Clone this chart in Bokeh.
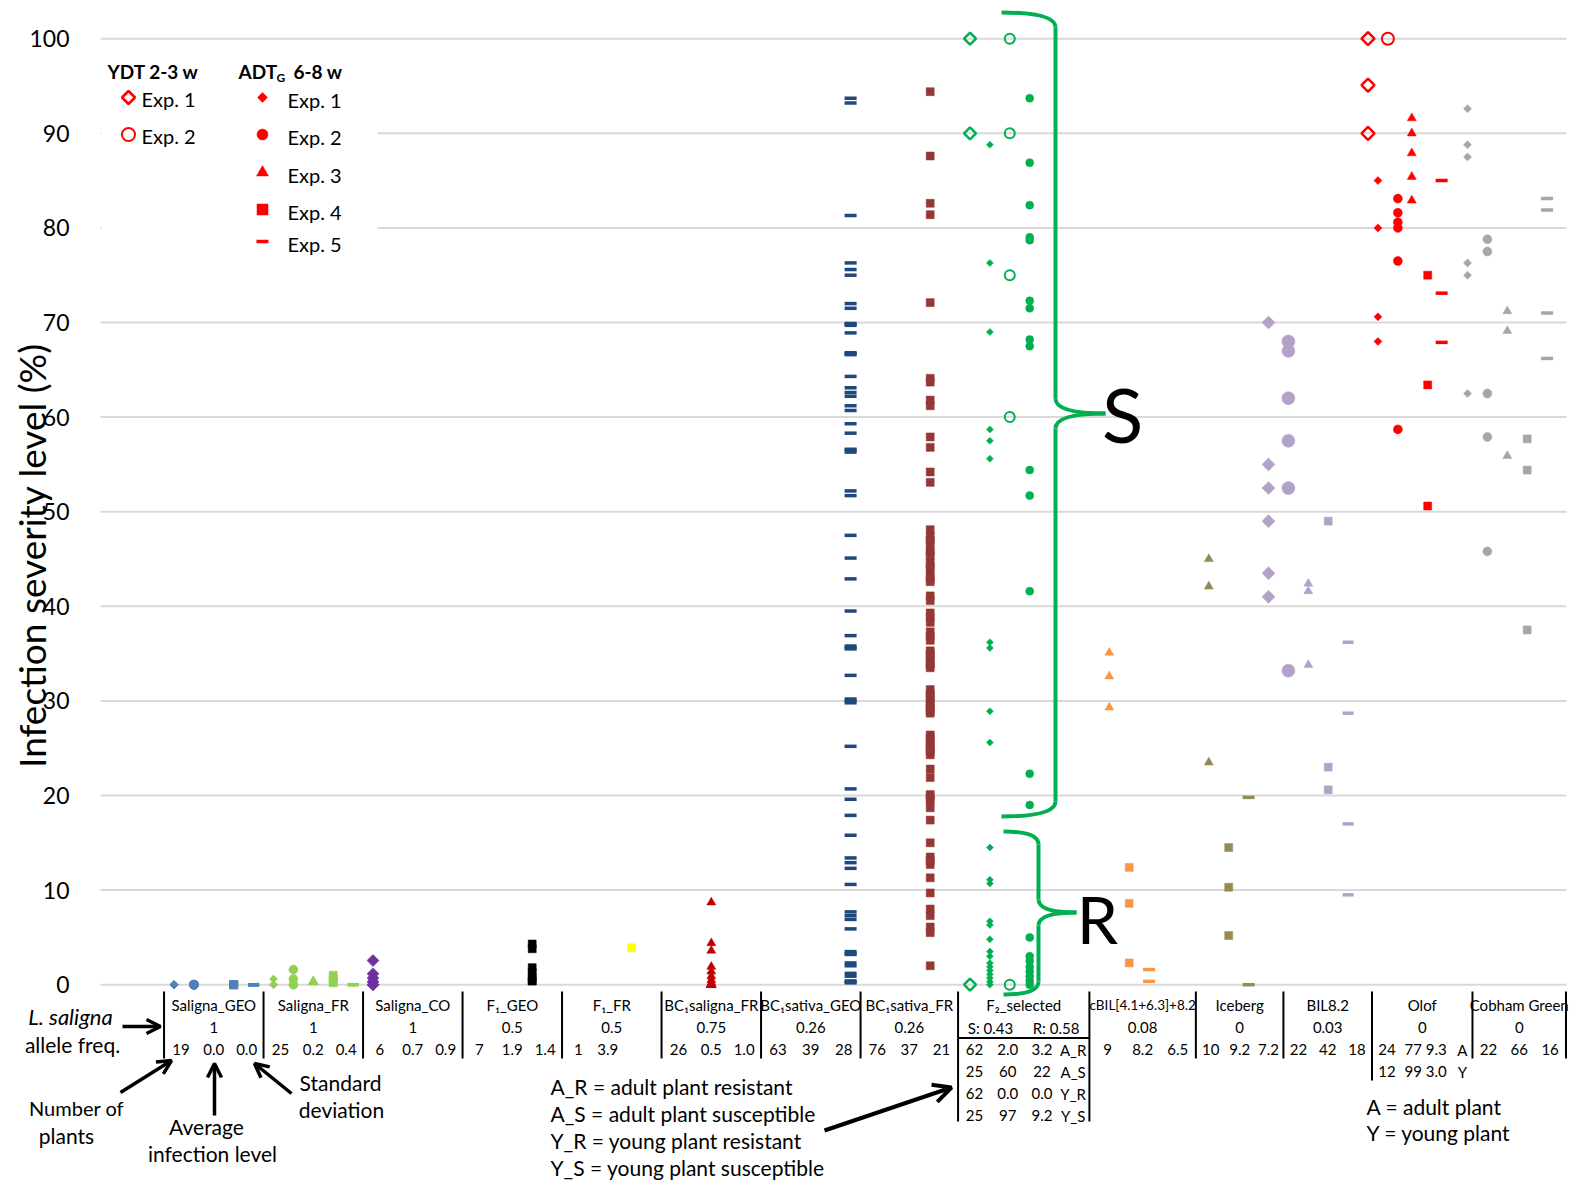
import math
from bokeh.plotting import figure
from bokeh.models import Range1d, FixedTicker, Arrow, OpenHead
from bokeh.embed import file_html
from bokeh.resources import INLINE
from bokeh.core.properties import value

# ---------------- data (infection severity, %) ----------------
y_ticks = [0, 10, 20, 30, 40, 50, 60, 70, 80, 90, 100]

groups = ["Saligna_GEO", "Saligna_FR", "Saligna_CO", "F\u2081_GEO", "F\u2081_FR",
          "BC\u2081saligna_FR", "BC\u2081sativa_GEO", "BC\u2081sativa_FR", "F\u2082_selected",
          "cBIL[4.1+6.3]+8.2", "Iceberg", "BIL8.2", "Olof", "Cobham Green"]
allele_freq = ["1", "1", "1", "0.5", "0.5", "0.75", "0.26", "0.26", None, "0.08", "0", "0.03", "0", "0"]
f2_freq = ["S: 0.43", "R: 0.58"]
stats = [["19", "0.0", "0.0"], ["25", "0.2", "0.4"], ["6", "0.7", "0.9"], ["7", "1.9", "1.4"],
         ["1", "3.9"], ["26", "0.5", "1.0"], ["63", "39", "28"], ["76", "37", "21"], None,
         ["9", "8.2", "6.5"], ["10", "9.2", "7.2"], ["22", "42", "18"], None, ["22", "66", "16"]]
f2_stats = [["62", "2.0", "3.2", "A_R"], ["25", "60", "22", "A_S"],
            ["62", "0.0", "0.0", "Y_R"], ["25", "97", "9.2", "Y_S"]]
olof_stats = [["24", "77", "9.3", "A"], ["12", "99", "3.0", "Y"]]

saligna_geo_e1 = [0.0, 0.0, 0.0, 0.0, 0.0]
saligna_geo_e2 = [0.0, 0.0, 0.0, 0.0, 0.0]
saligna_geo_e4 = [0.0, 0.0, 0.0, 0.0, 0.0]
saligna_geo_e5 = [0.0, 0.0, 0.0, 0.0]
saligna_fr_e1 = [0.6, 0.0, 0.0]
saligna_fr_e2 = [1.6, 0.6, 0.0]
saligna_fr_e3 = [0.3, 0.3]
saligna_fr_e4 = [1.0, 0.7, 0.4, 0.2]
saligna_fr_e5 = [0.0, 0.0]
saligna_co_e1 = [2.55, 1.15, 0.7, 0.3, 0.0, 0.0]
f1_geo_e4 = [4.3, 3.8, 1.8, 1.3, 0.8, 0.4, 0.4]
f1_fr_e4 = [3.9]
bc1saligna_fr_e3 = [8.7, 4.4, 3.6, 1.9, 1.4, 0.9, 0.5, 0.2, 0.0, 0.0, 0.0, 0.0, 0.0,
                    0.0, 0.0, 0.0, 0.0, 0.0, 0.0, 0.0, 0.0, 0.0, 0.0, 0.0, 0.0, 0.0]
bc1sativa_geo_e5 = [93.7, 93.2, 81.3, 76.3, 75.6, 75.0, 72.0, 71.5, 69.9, 69.8, 69.7, 68.9,
                    66.8, 66.7, 66.6, 64.3, 63.1, 62.6, 62.2, 61.2, 60.7, 59.3, 58.3, 56.6,
                    56.5, 56.3, 52.2, 51.7, 47.5, 45.1, 42.9, 39.5, 36.9, 35.8, 35.6, 35.5,
                    32.7, 30.2, 30.0, 29.8, 25.2, 20.7, 19.6, 17.9, 15.8, 13.4, 12.9, 12.3,
                    10.6, 7.7, 7.3, 6.9, 5.9, 3.5, 3.3, 3.2, 2.3, 2.0, 1.2, 0.9, 0.4, 0.3, 0.2]
bc1sativa_fr_e4 = [94.4, 87.6, 82.6, 81.4, 72.1, 64.1, 63.7, 61.8, 61.2, 57.9, 56.8, 54.2, 53.1,
                   48.1, 47.4, 46.7, 46.0, 45.3, 44.6, 43.9, 43.2, 42.6, 41.1, 40.6, 39.3, 38.8,
                   38.3, 37.3, 36.8, 36.4, 35.3, 34.8, 34.3, 33.8, 33.5, 31.2, 30.7, 30.2, 29.7,
                   29.2, 28.7, 26.4, 25.9, 25.4, 24.9, 24.3, 22.8, 21.9, 20.1, 19.5, 18.7, 17.4,
                   15.0, 13.5, 12.7, 11.3, 9.7, 8.0, 7.3, 6.1, 5.5, 2.0, 47.0, 45.7, 44.2, 42.9,
                   35.0, 34.0, 30.5, 29.5, 28.9, 26.1, 25.1, 24.6, 19.8, 13.1]
f2_ydt_e1 = [100.0, 90.0, 0.0]
f2_adt_e1 = [88.8, 76.3, 69.0, 58.7, 57.5, 55.6, 36.2, 35.6, 28.9, 25.6, 14.5, 11.1, 10.7,
             6.7, 6.3, 4.8, 3.5, 3.0, 2.3, 1.9, 1.5, 1.1, 0.7, 0.3, 0.0]
f2_ydt_e2 = [100.0, 90.0, 75.0, 60.0, 0.0]
f2_adt_e2 = [93.7, 86.9, 82.4, 79.0, 78.7, 72.3, 71.5, 68.2, 67.5, 54.4, 51.7, 41.6, 22.3,
             19.0, 5.0, 3.0, 2.5, 1.9, 1.4, 0.9, 0.4, 0.0]
cbil_e3 = [35.1, 32.6, 29.3]
cbil_e4 = [12.4, 8.6, 2.3]
cbil_e5 = [1.6, 0.35]
iceberg_e3 = [45.0, 42.1, 23.5]
iceberg_e4 = [14.5, 10.3, 5.2]
iceberg_e5 = [19.8, 0.0]
bil82_e1 = [70.0, 55.0, 52.5, 49.0, 43.5, 41.0]
bil82_e2 = [68.0, 67.0, 62.0, 57.5, 52.5, 33.2]
bil82_e3 = [42.4, 41.6, 33.8]
bil82_e4 = [49.0, 23.0, 20.6]
bil82_e5 = [36.2, 28.7, 17.0, 9.5]
olof_ydt_e1 = [100.0, 95.1, 90.0]
olof_adt_e1 = [85.0, 80.0, 70.6, 68.0]
olof_ydt_e2 = [100.0]
olof_adt_e2 = [83.1, 81.6, 80.6, 80.0, 76.5, 58.7]
olof_adt_e3 = [91.6, 90.0, 87.9, 85.4, 82.9]
olof_adt_e4 = [75.0, 63.4, 50.6]
olof_adt_e5 = [85.0, 73.1, 67.9]
cobham_e1 = [92.6, 88.8, 87.5, 76.3, 75.0, 62.5]
cobham_e2 = [78.8, 77.5, 62.5, 57.9, 45.8]
cobham_e3 = [71.2, 69.1, 55.9]
cobham_e4 = [57.7, 54.4, 37.5]
cobham_e5 = [83.1, 81.9, 71.0, 66.2]

# ---------------- layout helpers (page pixels -> data units) ----------------
FONT = "Lato"
W, H = 1575, 1183
def X(px):
    return (px - 173.5) / 19.9
def Y(py):
    return (984.2 - py) / 9.46

C = dict(sgeo="#4F81BD", sfr="#92D050", sco="#7030A0", f1geo="#000000", f1fr="#FFFF00",
         bcsal="#C00000", bcsgeo="#1F497D", bcsfr="#953735", f2="#00B050", cbil="#F79646",
         ice="#948A54", bil="#B3A2C7", olof="#FF0000", cob="#A6A6A6")

# (values, x slot, marker kind, colour, size)
series = [
    (saligna_geo_e1, 0, "d", C["sgeo"], 8), (saligna_geo_e2, 1, "c", C["sgeo"], 9),
    (saligna_geo_e4, 3, "s", C["sgeo"], 8), (saligna_geo_e5, 4, "-", C["sgeo"], 11),
    (saligna_fr_e1, 5, "d", C["sfr"], 8), (saligna_fr_e2, 6, "c", C["sfr"], 9),
    (saligna_fr_e3, 7, "t", C["sfr"], 10), (saligna_fr_e4, 8, "s", C["sfr"], 8),
    (saligna_fr_e5, 9, "-", C["sfr"], 11),
    (saligna_co_e1, 10, "d", C["sco"], 12),
    (f1_geo_e4, 18, "s", C["f1geo"], 8),
    (f1_fr_e4, 23, "s", C["f1fr"], 8),
    (bc1saligna_fr_e3, 27, "t", C["bcsal"], 9),
    (bc1sativa_geo_e5, 34, "-", C["bcsgeo"], 12),
    (bc1sativa_fr_e4, 38, "s", C["bcsfr"], 8),
    (f2_ydt_e1, 40, "hd", C["f2"], 12), (f2_adt_e1, 41, "d", C["f2"], 7),
    (f2_ydt_e2, 42, "hc", C["f2"], 10), (f2_adt_e2, 43, "c", C["f2"], 8),
    (cbil_e3, 47, "t", C["cbil"], 9), (cbil_e4, 48, "s", C["cbil"], 8), (cbil_e5, 49, "-", C["cbil"], 12),
    (iceberg_e3, 52, "t", C["ice"], 9), (iceberg_e4, 53, "s", C["ice"], 8), (iceberg_e5, 54, "-", C["ice"], 12),
    (bil82_e1, 55, "d", C["bil"], 13), (bil82_e2, 56, "c", C["bil"], 13), (bil82_e3, 57, "t", C["bil"], 9),
    (bil82_e4, 58, "s", C["bil"], 8), (bil82_e5, 59, "-", C["bil"], 11),
    (olof_ydt_e1, 60, "hd", C["olof"], 13), (olof_adt_e1, 60.5, "d", C["olof"], 8),
    (olof_ydt_e2, 61, "hc", C["olof"], 12), (olof_adt_e2, 61.5, "c", C["olof"], 9),
    (olof_adt_e3, 62.2, "t", C["olof"], 9), (olof_adt_e4, 63, "s", C["olof"], 8),
    (olof_adt_e5, 63.7, "-", C["olof"], 12),
    (cobham_e1, 65, "d", C["cob"], 8), (cobham_e2, 66, "c", C["cob"], 9), (cobham_e3, 67, "t", C["cob"], 9),
    (cobham_e4, 68, "s", C["cob"], 8), (cobham_e5, 69, "-", C["cob"], 12),
]

col_edges = [-0.5, 4.5, 9.5, 14.5, 19.5, 24.5, 29.5, 34.5, 39.4, 46.0, 51.35, 55.75, 60.2, 65.25, 69.95]

# ---------------- figure ----------------
p = figure(width=W, height=H, output_backend="svg", toolbar_location=None,
           x_range=Range1d(X(0), X(W)), y_range=Range1d(Y(H), Y(0)),
           x_axis_location=None, y_axis_location="left",
           min_border_left=0, min_border_right=0, min_border_top=0, min_border_bottom=0)
p.outline_line_color = None
p.background_fill_color = "white"
p.border_fill_color = "white"
p.xgrid.visible = False
p.ygrid.visible = False

ax = p.yaxis[0]
ax.fixed_location = X(100)
ax.ticker = FixedTicker(ticks=y_ticks)
ax.axis_line_color = None
ax.major_tick_line_color = None
ax.minor_tick_line_color = None
ax.major_tick_out = 0
ax.major_tick_in = 0
ax.minor_tick_out = 0
ax.major_label_text_font = FONT
ax.major_label_text_font_size = "23px"
ax.major_label_text_color = "black"
ax.major_label_standoff = 31

# horizontal gridlines at the y ticks, over the plot width only
p.segment(x0=[X(100)] * len(y_ticks), y0=y_ticks, x1=[X(1566)] * len(y_ticks), y1=y_ticks,
          line_color="#D9D9D9", line_width=2)

# white box behind the legend (hides gridlines)
p.quad(left=[X(101)], right=[X(377)], top=[Y(50)], bottom=[Y(258)], fill_color="white", line_color=None)


def draw(xs, ys, kind, color, size):
    if kind == "d":
        p.scatter(xs, ys, marker="square", angle=math.pi / 4, size=size / 1.414,
                  fill_color=color, line_color=color, line_width=0.5)
    elif kind == "hd":
        p.scatter(xs, ys, marker="square", angle=math.pi / 4, size=size / 1.414,
                  fill_color=None, line_color=color, line_width=2.5)
    elif kind == "c":
        p.scatter(xs, ys, marker="circle", size=size, fill_color=color, line_color=color, line_width=0.5)
    elif kind == "hc":
        p.scatter(xs, ys, marker="circle", size=size, fill_color=None, line_color=color, line_width=2)
    elif kind == "t":
        p.scatter(xs, ys, marker="triangle", size=size, fill_color=color, line_color=color, line_width=0.5)
    elif kind == "s":
        p.scatter(xs, ys, marker="square", size=size, fill_color=color, line_color=color, line_width=0.5)
    elif kind == "-":
        p.scatter(xs, ys, marker="dash", size=size, line_color=color, line_width=3.5)


for vals, slot, kind, color, size in series:
    draw([slot] * len(vals), vals, kind, color, size)


def txt(px, py, t, size, align="left", style="normal", angle=0.0):
    p.text(x=[X(px)], y=[Y(py)], text=[t], text_font=value(FONT), text_font_size=value(size),
           text_align=align, text_baseline="middle", text_color="black",
           text_font_style=style, angle=angle)

# ---------------- legend ----------------
txt(107, 71, "YDT 2-3 w", "19px", style="bold")
txt(238, 71, "ADT", "19px", style="bold")
txt(276, 77, "G", "12px", style="bold")
txt(293, 71, "6-8 w", "19px", style="bold")
draw([X(128)], [Y(97)], "hd", C["olof"], 13)
draw([X(128)], [Y(134)], "hc", C["olof"], 13)
txt(141, 98, "Exp. 1", "20px")
txt(141, 135, "Exp. 2", "20px")
leg_kinds = ["d", "c", "t", "s", "-"]
leg_y = [97, 134, 172, 209, 241]
leg_sz = [10, 11, 12, 11, 12]
for i, (k, yy, sz) in enumerate(zip(leg_kinds, leg_y, leg_sz)):
    draw([X(262)], [Y(yy)], k, C["olof"], sz)
    txt(287, yy + 2, "Exp. %d" % (i + 1), "20px")

# ---------------- braces ----------------
G = C["f2"]
def brace(xl, xv, xt, ytop, ymid, ybot, r):
    qx0 = [X(xl), X(xv), X(xt), X(xv)]
    qy0 = [Y(ytop), Y(ymid - r), Y(ymid), Y(ybot - r)]
    qx1 = [X(xv), X(xt), X(xv), X(xl)]
    qy1 = [Y(ytop + r), Y(ymid), Y(ymid + r), Y(ybot)]
    qcx = [X(xv), X(xv), X(xv), X(xv)]
    qcy = [Y(ytop), Y(ymid), Y(ymid), Y(ybot)]
    p.quadratic(x0=qx0, y0=qy0, x1=qx1, y1=qy1, cx=qcx, cy=qcy, line_color=G, line_width=4)
    p.segment(x0=[X(xv), X(xv)], y0=[Y(ytop + r), Y(ymid + r)], x1=[X(xv), X(xv)],
              y1=[Y(ymid - r), Y(ybot - r)], line_color=G, line_width=4)

brace(1001, 1055, 1105, 12, 413, 816, 15)
brace(1003, 1038, 1076, 831, 912, 994, 13)
txt(1122, 413, "S", "76px", align="center")
txt(1097, 918, "R", "66px", align="center")

# ---------------- table ----------------
tx, ty, tt, ts = [], [], [], []
ROWS = [1004, 1027, 1049, 1071, 1093, 1115]
def cell(x, py, t, size="15px"):
    tx.append(x); ty.append(Y(py)); tt.append(t); ts.append(size)

for i, name in enumerate(groups):
    l, r = col_edges[i], col_edges[i + 1]
    w = r - l
    cell((l + r) / 2, ROWS[0], name, "13.5px" if name.startswith("cBIL") else "15px")
    if allele_freq[i] is not None:
        cell((l + r) / 2, ROWS[1], allele_freq[i])
    if name.startswith("F\u2082"):
        for f, s in zip([0.247, 0.746], f2_freq):
            cell(l + f * w, ROWS[1], s)
        for j, row in enumerate(f2_stats):
            for f, s in zip([0.125, 0.378, 0.639, 0.876], row):
                cell(l + f * w, ROWS[2 + j], s)
    elif name == "Olof":
        for j, row in enumerate(olof_stats):
            for f, s in zip([0.15, 0.41, 0.64, 0.90], row):
                cell(l + f * w, ROWS[2 + j], s)
    else:
        fr = [0.17, 0.5, 0.83] if len(stats[i]) == 3 else [0.165, 0.46]
        for f, s in zip(fr, stats[i]):
            cell(l + f * w, ROWS[2], s)
p.text(x=tx, y=ty, text=tt, text_font=value(FONT), text_font_size=ts,
       text_align="center", text_baseline="middle", text_color="black")

vx, vy0, vy1 = [], [], []
for i, e in enumerate(col_edges):
    bottom = 1058
    if i in (8, 9):
        bottom = 1121
    elif i == 12:
        bottom = 1080
    vx.append(e); vy0.append(Y(991)); vy1.append(Y(bottom))
p.segment(x0=vx, y0=vy0, x1=vx, y1=vy1, line_color="black", line_width=2)
p.segment(x0=[col_edges[8]], y0=[Y(1037.5)], x1=[col_edges[9]], y1=[Y(1037.5)],
          line_color="black", line_width=2)

# ---------------- annotations ----------------
txt(31, 555, "Infection severity level (%)", "37px", align="center", angle=math.pi / 2)
txt(70, 1016, "L. saligna", "22px", align="center", style="italic")
txt(72, 1044, "allele freq.", "21px", align="center")
txt(76, 1107, "Number of", "20px", align="center")
txt(66, 1135, "plants", "21px", align="center")
txt(206, 1126, "Average", "21px", align="center")
txt(212, 1153, "infection level", "21px", align="center")
txt(340, 1082, "Standard", "21px", align="center")
txt(341, 1109, "deviation", "21px", align="center")
for k, t in enumerate(["A_R = adult plant resistant", "A_S = adult plant susceptible",
                       "Y_R = young plant resistant", "Y_S = young plant susceptible"]):
    txt(550, 1086 + 27 * k, t, "21px")
txt(1366, 1106, "A = adult plant", "21px")
txt(1366, 1132, "Y = young plant", "21px")

def arrow(x0, y0, x1, y1, lw=3.5, hs=14):
    p.add_layout(Arrow(end=OpenHead(size=hs, line_width=lw, line_color="black"),
                       x_start=X(x0), y_start=Y(y0), x_end=X(x1), y_end=Y(y1),
                       line_width=lw, line_color="black"))

arrow(122, 1026, 160, 1026)
arrow(120, 1092, 171, 1060)
arrow(214, 1115, 214, 1063)
arrow(291, 1093, 254, 1063)
arrow(824, 1130, 951, 1087, lw=4, hs=18)

open("out.html", "w").write(file_html(p, INLINE))
